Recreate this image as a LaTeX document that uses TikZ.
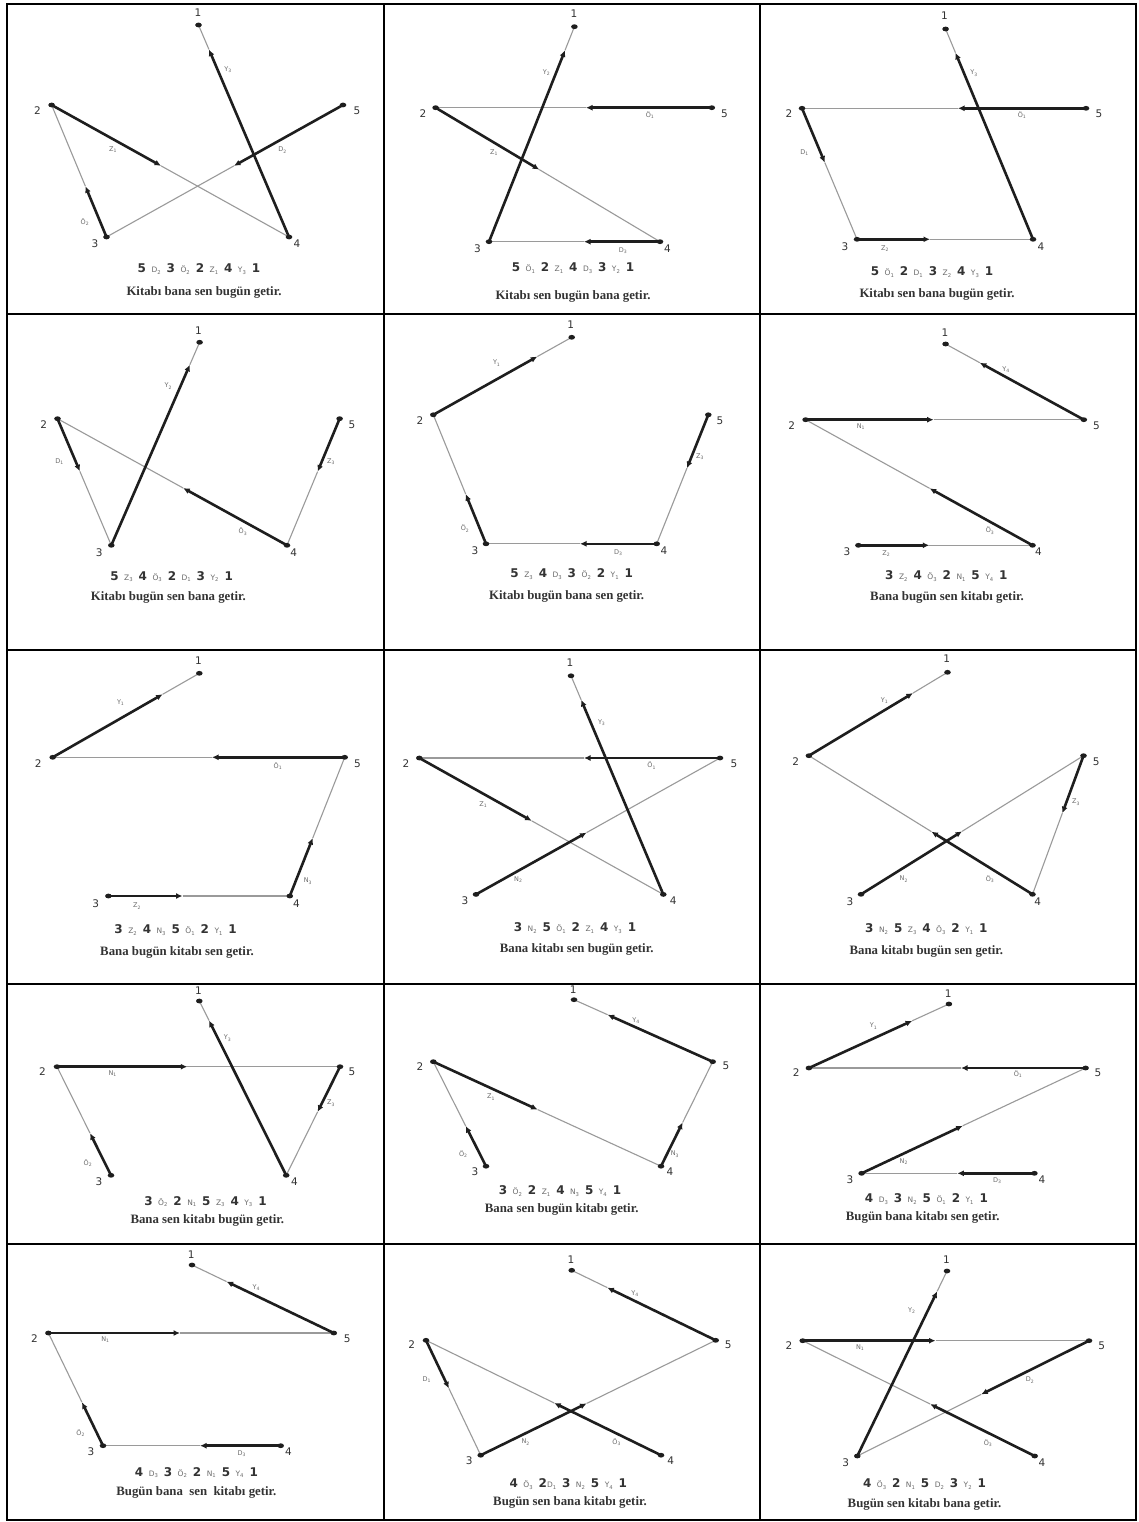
\documentclass[tikz,border=0pt]{standalone}
\usepackage{fontspec}
\setmainfont{DejaVu Sans}
\newfontfamily\serf{Liberation Serif}
\usetikzlibrary{calc,arrows.meta}
\pgfdeclarelayer{paper}\pgfdeclarelayer{bg}\pgfdeclarelayer{mid}\pgfsetlayers{paper,bg,mid,main}
\definecolor{ink}{HTML}{1E1E1E}
\definecolor{thinc}{HTML}{9A9A9A}
\definecolor{txt}{HTML}{333333}
\definecolor{labc}{HTML}{6A6A6A}
\newcommand\tksize{6.5}
\newcommand\tk[2]{{\mdseries\color{labc}\fontsize{\tksize}{7}\selectfont #1\textsubscript{#2}}}
\newcommand\seqfont{\bfseries\fontsize{12}{14}\selectfont\spaceskip 5.5pt plus 1pt\relax\def\tksize{7.5}}
\tikzset{
 thinedge/.style={draw=thinc,line width=1.1pt},
 thickedge/.style={draw=ink,line width=2.6pt,-{Latex[length=6.5pt,width=6pt]}},
 vlab/.style={font=\fontsize{10.5}{12}\selectfont,text=txt,inner sep=0pt},
 elab/.style={text=labc,inner sep=0pt},
 seqt/.style={font=\seqfont,text=txt,inner sep=0pt},
 sent/.style={font=\serf\bfseries\fontsize{12.8}{14}\selectfont,text=txt,inner sep=0pt},
 border/.style={draw=black,line width=2pt},
}
\newcommand\vx[4]{\coordinate (#1) at (#2); \node[vlab] (#1L) at (#3) {#4};}
\newcommand\ed[6]{%
 \coordinate (#1g) at (#4);
 \coordinate (#1m) at ($(#2)!(#1g)!(#3)$);
 \begin{pgfonlayer}{bg}\draw[thinedge] (#1m) -- (#3);\end{pgfonlayer}
 \begin{pgfonlayer}{mid}\draw[thickedge] (#2) -- (#1m);\end{pgfonlayer}
 \node[elab] (#1L) at (#5) {#6};}
\newcommand\dts[1]{\foreach \i in {1,...,5}{\fill[ink] (#1\i) ellipse (3.3pt and 2.4pt);}}
\begin{document}
\begin{tikzpicture}[x=1pt,y=-1pt]
\useasboundingbox (0,0) rectangle (1139,1522);
\begin{pgfonlayer}{paper}\fill[white] (0,0) rectangle (1139,1522);\end{pgfonlayer}
% grid
\draw[border] (7,4) rectangle (1136,1520);
\draw[border] (384,4) -- (384,1520);
\draw[border] (760,4) -- (760,1520);
\draw[border] (7,314) -- (1136,314);
\draw[border] (7,650) -- (1136,650);
\draw[border] (7,984) -- (1136,984);
\draw[border] (7,1244) -- (1136,1244);

% ---------- panel a
\vx{a1}{198.5,25}{198,13}{1}
\vx{a2}{51.6,105}{37.5,111}{2}
\vx{a3}{106.5,237}{95,244}{3}
\vx{a4}{289,237}{297,244}{4}
\vx{a5}{343,105}{357,111}{5}
\ed{aD}{a5}{a3}{234,166}{282.5,150}{\tk{D}{2}}
\ed{aO}{a3}{a2}{86,186}{85,222}{\tk{Ö}{2}}
\ed{aZ}{a2}{a4}{161,166}{113,150}{\tk{Z}{1}}
\ed{aY}{a4}{a1}{210,49}{228,70}{\tk{Y}{3}}
\dts{a}
\node[seqt] (aS) at (199,269) {5 \tk{D}{2} 3 \tk{Ö}{2} 2 \tk{Z}{1} 4 \tk{Y}{3} 1};
\node[sent] (aT) at (204,292) {Kitabı bana sen bugün getir.};

% ---------- panel b
\vx{b1}{574.4,26.7}{574,14}{1}
\vx{b2}{435.6,107.7}{423,113.7}{2}
\vx{b3}{489,241.7}{477.5,248.7}{3}
\vx{b4}{660,241.7}{667.5,249}{4}
\vx{b5}{711.8,107.7}{724.5,113.7}{5}
\ed{bO}{b5}{b2}{586,107.7}{650,115}{\tk{Ö}{1}}
\ed{bZ}{b2}{b4}{539.6,169}{494,153}{\tk{Z}{1}}
\ed{bD}{b4}{b3}{584,241.7}{623,250.7}{\tk{D}{3}}
\ed{bY}{b3}{b1}{566,50.7}{546.5,72.7}{\tk{Y}{2}}
\dts{b}
\node[seqt] (bS) at (573,268) {5 \tk{Ö}{1} 2 \tk{Z}{1} 4 \tk{D}{3} 3 \tk{Y}{2} 1};
\node[sent] (bT) at (573,296) {Kitabı sen bugün bana getir.};

% ---------- panel c
\vx{c1}{945.6,29}{944.5,16}{1}
\vx{c2}{802,108.3}{789,114}{2}
\vx{c3}{857,239.3}{845,246.7}{3}
\vx{c4}{1033,239.3}{1041,246.7}{4}
\vx{c5}{1086,108.3}{1099,114}{5}
\ed{cO}{c5}{c2}{958,108.3}{1022,115.3}{\tk{Ö}{1}}
\ed{cD}{c2}{c3}{823.8,163}{804.5,153}{\tk{D}{1}}
\ed{cZ}{c3}{c4}{930,239.3}{885,248.7}{\tk{Z}{2}}
\ed{cY}{c4}{c1}{956.5,52.3}{974,73.3}{\tk{Y}{3}}
\dts{c}
\node[seqt] (cS) at (932,272) {5 \tk{Ö}{1} 2 \tk{D}{1} 3 \tk{Z}{2} 4 \tk{Y}{3} 1};
\node[sent] (cT) at (937,294) {Kitabı sen bana bugün getir.};

% ---------- panel d
\vx{d1}{199.6,342.3}{198.5,330.7}{1}
\vx{d2}{57.5,418.7}{43.6,424.3}{2}
\vx{d3}{111.3,545.3}{99.3,552.3}{3}
\vx{d4}{287,545.3}{293.8,552.3}{4}
\vx{d5}{339.6,418.7}{352,424.3}{5}
\ed{dZ}{d5}{d4}{317.8,471.7}{331,461.7}{\tk{Z}{3}}
\ed{dO}{d4}{d2}{183,488.3}{243,531.7}{\tk{Ö}{3}}
\ed{dD}{d2}{d3}{79,471.7}{59.6,461.7}{\tk{D}{1}}
\ed{dY}{d3}{d1}{190.5,365}{168.4,386}{\tk{Y}{2}}
\dts{d}
\node[seqt] (dS) at (171.6,576.7) {5 \tk{Z}{3} 4 \tk{Ö}{3} 2 \tk{D}{1} 3 \tk{Y}{2} 1};
\node[sent] (dT) at (168.4,597.3) {Kitabı bugün sen bana getir.};

% ---------- panel e
\vx{e1}{571.7,337.3}{570.7,325}{1}
\vx{e2}{433.3,414.8}{420,420.4}{2}
\vx{e3}{486,543.8}{475,550.3}{3}
\vx{e4}{656.7,543.8}{664,550.3}{4}
\vx{e5}{708.3,414.8}{720,420.4}{5}
\ed{eZ}{e5}{e4}{686.7,468}{700,457}{\tk{Z}{3}}
\ed{eD}{e4}{e3}{580,543.8}{618.3,552.4}{\tk{D}{3}}
\ed{eO}{e3}{e2}{466,494}{465,528.6}{\tk{Ö}{2}}
\ed{eY}{e2}{e1}{536.7,355.5}{496.7,363.2}{\tk{Y}{1}}
\dts{e}
\node[seqt] (eS) at (571.7,574) {5 \tk{Z}{3} 4 \tk{D}{3} 3 \tk{Ö}{2} 2 \tk{Y}{1} 1};
\node[sent] (eT) at (566.7,596.6) {Kitabı bugün bana sen getir.};

% ---------- panel f
\vx{f1}{945.6,344}{945,332.7}{1}
\vx{f2}{805.6,419.7}{791.8,425.3}{2}
\vx{f3}{858.4,545.3}{847,551.7}{3}
\vx{f4}{1032.5,545.3}{1038.4,551.7}{4}
\vx{f5}{1083.8,419.7}{1096.5,425.3}{5}
\ed{fZ}{f3}{f4}{929.3,545.3}{886.4,553.7}{\tk{Z}{2}}
\ed{fO}{f4}{f2}{929.3,489}{990,530.7}{\tk{Ö}{3}}
\ed{fN}{f2}{f5}{933.6,419.7}{861,426.7}{\tk{N}{1}}
\ed{fY}{f5}{f1}{979.8,362.7}{1006,370}{\tk{Y}{4}}
\dts{f}
\node[seqt] (fS) at (946.4,576) {3 \tk{Z}{2} 4 \tk{Ö}{3} 2 \tk{N}{1} 5 \tk{Y}{4} 1};
\node[sent] (fT) at (947,597.3) {Bana bugün sen kitabı getir.};

% ---------- panel g
\vx{g1}{199.3,673.3}{198.5,660.7}{1}
\vx{g2}{52.7,757.3}{38.2,763.7}{2}
\vx{g3}{108.4,896}{95.6,903.7}{3}
\vx{g4}{289.8,896}{296.4,903.7}{4}
\vx{g5}{344.7,757.3}{357.5,763.7}{5}
\ed{gZ}{g3}{g4}{182.5,896}{137,906}{\tk{Z}{2}}
\ed{gN}{g4}{g5}{312,837.7}{308,881}{\tk{N}{3}}
\ed{gO}{g5}{g2}{212,757.3}{278,765.7}{\tk{Ö}{1}}
\ed{gY}{g2}{g1}{162.5,694}{120.7,702.3}{\tk{Y}{1}}
\dts{g}
\node[seqt] (gS) at (175.6,930.3) {3 \tk{Z}{2} 4 \tk{N}{3} 5 \tk{Ö}{1} 2 \tk{Y}{1} 1};
\node[sent] (gT) at (177,952.3) {Bana bugün kitabı sen getir.};

% ---------- panel h
\vx{h1}{571,675.8}{570,662.8}{1}
\vx{h2}{419.3,758}{406,763.7}{2}
\vx{h3}{476,894.4}{465,901}{3}
\vx{h4}{663.3,894.4}{673.3,901}{4}
\vx{h5}{720,758}{734,763.7}{5}
\ed{hN}{h3}{h5}{586.7,832.9}{518.3,879.3}{\tk{N}{2}}
\ed{hO}{h5}{h2}{584,758}{651.7,765.4}{\tk{Ö}{1}}
\ed{hZ}{h2}{h4}{531.7,820.8}{483.3,804.4}{\tk{Z}{1}}
\ed{hY}{h4}{h1}{581.7,699.6}{601.7,722.5}{\tk{Y}{3}}
\dts{h}
\node[seqt] (hS) at (575,928) {3 \tk{N}{2} 5 \tk{Ö}{1} 2 \tk{Z}{1} 4 \tk{Y}{3} 1};
\node[sent] (hT) at (576.7,949.8) {Bana kitabı sen bugün getir.};

% ---------- panel i
\vx{i1}{947.5,672.3}{946.7,659}{1}
\vx{i2}{808.9,755.7}{795.8,761.7}{2}
\vx{i3}{861,894.3}{850,901.7}{3}
\vx{i4}{1032.5,894.3}{1037.6,901.7}{4}
\vx{i5}{1083.5,755.7}{1096.2,761.7}{5}
\ed{iN}{i3}{i5}{962.7,832.3}{903.8,879}{\tk{N}{2}}
\ed{iZ}{i5}{i4}{1062.7,813.3}{1076,802.3}{\tk{Z}{3}}
\ed{iO}{i4}{i2}{931,832.3}{990,879}{\tk{Ö}{3}}
\ed{iY}{i2}{i1}{912.5,692.3}{884.5,700.7}{\tk{Y}{1}}
\dts{i}
\node[seqt] (iS) at (926.4,929) {3 \tk{N}{2} 5 \tk{Z}{3} 4 \tk{Ö}{3} 2 \tk{Y}{1} 1};
\node[sent] (iT) at (926.4,951) {Bana kitabı bugün sen getir.};

% ---------- panel j
\vx{j1}{199.3,1001}{198.5,991}{1}
\vx{j2}{57,1066.7}{42.5,1071.7}{2}
\vx{j3}{111,1175.3}{99,1181.3}{3}
\vx{j4}{286.2,1175.3}{294.5,1181.3}{4}
\vx{j5}{340,1066.7}{352,1071.7}{5}
\ed{jO}{j3}{j2}{89.8,1133.3}{88,1163.3}{\tk{Ö}{2}}
\ed{jN}{j2}{j5}{187.3,1066.7}{112.7,1073.3}{\tk{N}{1}}
\ed{jZ}{j5}{j4}{317.8,1112}{331,1103.3}{\tk{Z}{3}}
\ed{jY}{j4}{j1}{210,1020}{227.6,1038.3}{\tk{Y}{3}}
\dts{j}
\node[seqt] (jS) at (205.5,1201.7) {3 \tk{Ö}{2} 2 \tk{N}{1} 5 \tk{Z}{3} 4 \tk{Y}{3} 1};
\node[sent] (jT) at (207.3,1220.7) {Bana sen kitabı bugün getir.};

% ---------- panel k
\vx{k1}{574,999.7}{573.3,989.7}{1}
\vx{k2}{433.3,1061.7}{420,1066.2}{2}
\vx{k3}{486,1166.2}{475,1171.4}{3}
\vx{k4}{661,1166.2}{670,1171.4}{4}
\vx{k5}{712.7,1061.7}{726,1066.2}{5}
\ed{kO}{k3}{k2}{466,1125.9}{463.3,1154}{\tk{Ö}{2}}
\ed{kZ}{k2}{k4}{537.3,1110.3}{491,1097.2}{\tk{Z}{1}}
\ed{kN}{k4}{k5}{681.7,1122}{675,1154}{\tk{N}{3}}
\ed{kY}{k5}{k1}{607.7,1014.5}{636,1020.3}{\tk{Y}{4}}
\dts{k}
\node[seqt] (kS) at (560,1191) {3 \tk{Ö}{2} 2 \tk{Z}{1} 4 \tk{N}{3} 5 \tk{Y}{4} 1};
\node[sent] (kT) at (561.7,1209) {Bana sen bugün kitabı getir.};

% ---------- panel l
\vx{l1}{948.9,1004}{948.2,994}{1}
\vx{l2}{808.9,1068}{796.2,1072.7}{2}
\vx{l3}{861.6,1173.3}{850,1179.3}{3}
\vx{l4}{1034.4,1173.3}{1042,1179.3}{4}
\vx{l5}{1085.6,1068}{1098,1072.7}{5}
\ed{lD}{l4}{l3}{957.3,1173.3}{997.3,1180.7}{\tk{D}{3}}
\ed{lN}{l3}{l5}{962.7,1125.7}{903.8,1161.7}{\tk{N}{2}}
\ed{lO}{l5}{l2}{961,1068}{1018,1074}{\tk{Ö}{1}}
\ed{lY}{l2}{l1}{911.8,1020}{873.6,1026}{\tk{Y}{1}}
\dts{l}
\node[seqt] (lS) at (926.4,1199.3) {4 \tk{D}{3} 3 \tk{N}{2} 5 \tk{Ö}{1} 2 \tk{Y}{1} 1};
\node[sent] (lT) at (922.7,1217.3) {Bugün bana kitabı sen getir.};

% ---------- panel m
\vx{m1}{192,1265}{191.3,1254.3}{1}
\vx{m2}{48.4,1333}{34.5,1338.3}{2}
\vx{m3}{103,1445.7}{91,1451.7}{3}
\vx{m4}{280.7,1445.7}{288.4,1451.7}{4}
\vx{m5}{333.8,1333}{347.3,1338.3}{5}
\ed{mD}{m4}{m3}{200,1445.7}{241.8,1453.3}{\tk{D}{3}}
\ed{mO}{m3}{m2}{81.8,1402.3}{80.7,1433.3}{\tk{Ö}{2}}
\ed{mN}{m2}{m5}{180,1333}{105.5,1339.3}{\tk{N}{1}}
\ed{mY}{m5}{m1}{226.5,1281.7}{256.4,1287.7}{\tk{Y}{4}}
\dts{m}
\node[seqt] (mS) at (196.4,1472.7) {4 \tk{D}{3} 3 \tk{Ö}{2} 2 \tk{N}{1} 5 \tk{Y}{4} 1};
\node[sent] (mT) at (196.4,1492.3) {Bugün bana\ \ sen\ \ kitabı getir.};

% ---------- panel n
\vx{n1}{571.7,1270.3}{571,1260}{1}
\vx{n2}{426,1340.3}{411.7,1344.8}{2}
\vx{n3}{480.7,1455.2}{469.3,1461}{3}
\vx{n4}{661,1455.2}{670.7,1461}{4}
\vx{n5}{715.7,1340.3}{728.3,1344.8}{5}
\ed{nO}{n4}{n2}{554,1403.4}{616.7,1442}{\tk{Ö}{3}}
\ed{nD}{n2}{n3}{448.3,1388.6}{426.7,1379.3}{\tk{D}{1}}
\ed{nN}{n3}{n5}{586.7,1403.4}{525.7,1442}{\tk{N}{2}}
\ed{nY}{n5}{n1}{607.3,1287.6}{635,1293.8}{\tk{Y}{4}}
\dts{n}
\node[seqt] (nS) at (568.3,1484) {4 \tk{Ö}{3} 2\tk{D}{1} 3 \tk{N}{2} 5 \tk{Y}{4} 1};
\node[sent] (nT) at (570,1502.8) {Bugün sen bana kitabı getir.};

% ---------- panel o
\vx{o1}{947,1271}{946.4,1260}{1}
\vx{o2}{802.7,1340.7}{789,1345.7}{2}
\vx{o3}{857.3,1456}{845.6,1462.3}{3}
\vx{o4}{1034.7,1456}{1042,1462.3}{4}
\vx{o5}{1089,1340.7}{1101.6,1345.7}{5}
\ed{oO}{o4}{o2}{930,1404.3}{988,1443.3}{\tk{Ö}{3}}
\ed{oN}{o2}{o5}{935.5,1340.7}{860.2,1347.3}{\tk{N}{1}}
\ed{oD}{o5}{o3}{981,1394}{1030,1380}{\tk{D}{2}}
\ed{oY}{o3}{o1}{938,1291.7}{911.8,1310.7}{\tk{Y}{2}}
\dts{o}
\node[seqt] (oS) at (924.5,1484.3) {4 \tk{Ö}{3} 2 \tk{N}{1} 5 \tk{D}{2} 3 \tk{Y}{2} 1};
\node[sent] (oT) at (924.5,1504.3) {Bugün sen kitabı bana getir.};
\end{tikzpicture}
\end{document}
